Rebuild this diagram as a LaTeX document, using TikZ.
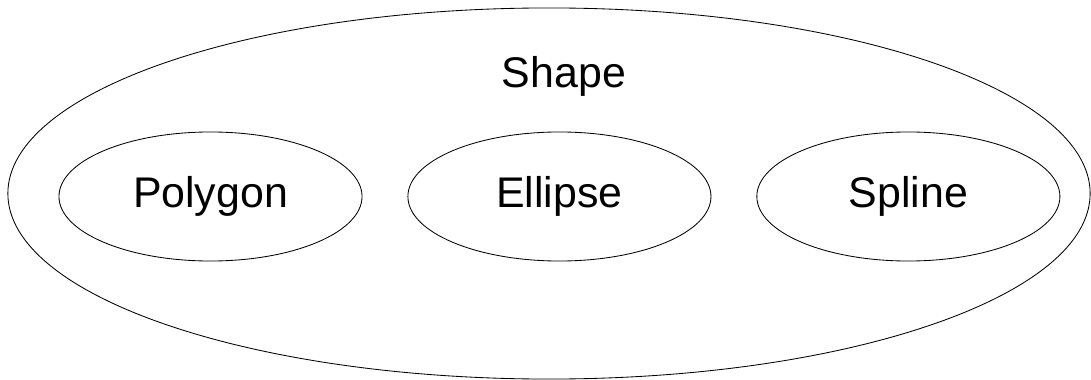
\documentclass[tikz,border=0pt]{standalone}
\usepackage{fontspec}
\setmainfont{Liberation Sans}
\usetikzlibrary{shapes.geometric, positioning}

\begin{document}
\begin{tikzpicture}[x=0.025cm, y=-0.025cm, node distance=1.125cm,
    outer/.style={ellipse, draw=black, line width=0.6pt, minimum width=27.05cm, minimum height=9.275cm, inner sep=0pt},
    part/.style={ellipse, draw=black, line width=0.6pt, minimum width=7.575cm, minimum height=3.225cm, inner sep=0pt, font=\fontsize{30.5}{36}\selectfont}]
    \useasboundingbox (0,0) rectangle (1091,380);

    % Outer class and its title
    \node (shape) [outer] at (549,193.5) {};
    \node (title) [anchor=base, font=\fontsize{30.5}{36}\selectfont] at (564,87.3) {Shape};

    % Subclasses
    \node (polygon) [part] at (210.5,196.5) {Polygon};
    \node (ellipse) [part, right=of polygon] {Ellipse};
    \node (spline) [part, right=of ellipse] {Spline};
\end{tikzpicture}
\end{document}
